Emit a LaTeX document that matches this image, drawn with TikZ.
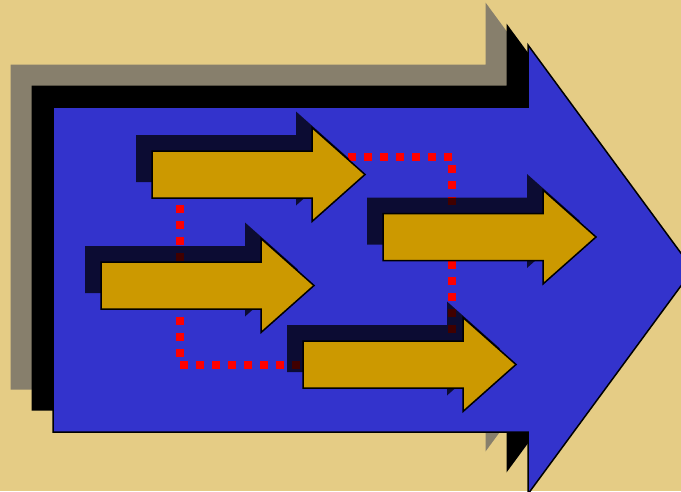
\documentclass[tikz,border=0pt]{standalone}
\usetikzlibrary{calc}
\definecolor{bgcol}{RGB}{229,204,133}
\definecolor{graysh}{RGB}{135,127,108}
\definecolor{bluecol}{RGB}{51,51,204}
\definecolor{goldcol}{RGB}{204,153,0}
\definecolor{redcol}{RGB}{255,0,0}
\tikzset{
  bigshadowgray/.style={fill=graysh},
  bigshadowblack/.style={fill=black},
  bigbody/.style={fill=bluecol,draw=black,line width=1.5pt,line join=miter},
  smallshadow/.style={fill=black,fill opacity=0.75},
  smallbody/.style={fill=goldcol,draw=black,line width=1.5pt,line join=miter},
  redloop/.style={draw=redcol,line width=8pt,dash pattern=on 8pt off 8pt,dash phase=8pt,line cap=butt}
}
\def\bigarrowpath{(53,107) -- (528,107) -- (528,45) -- (693,269.5) -- (528,494) -- (528,432) -- (53,432) -- cycle}
\def\smallarrowpath{(0,-23.5) -- (160,-23.5) -- (160,-47) -- (213,0) -- (160,47) -- (160,23.5) -- (0,23.5) -- cycle}
\begin{document}
\begin{tikzpicture}[x=1pt,y=-1pt]
\useasboundingbox (0,0) rectangle (681,491);
\clip (0,0) rectangle (681,491);
\fill[bgcol] (0,0) rectangle (681,491);
% big arrow with its two shadows
\begin{scope}[shift={(-42.5,-42.5)}]
  \fill[bigshadowgray] \bigarrowpath;
\end{scope}
\begin{scope}[shift={(-21.5,-21.5)}]
  \fill[bigshadowblack] \bigarrowpath;
\end{scope}
\path[bigbody] \bigarrowpath;
% red dotted loop
\coordinate (r1) at (180,157);
\coordinate (r2) at (452,157);
\coordinate (r3) at (452,365);
\coordinate (r4) at (180,365);
\draw[redloop] (r1) -- (r2) -- (r3) -- (r4) -- cycle;
% small arrows
\foreach \ax/\ay in {152/174.5, 101/285.5, 383/237, 303/364.5}{
  \begin{scope}[shift={(\ax-16,\ay-16)}]
    \fill[smallshadow] \smallarrowpath;
  \end{scope}
  \begin{scope}[shift={(\ax,\ay)}]
    \path[smallbody] \smallarrowpath;
  \end{scope}
}
\end{tikzpicture}
\end{document}
